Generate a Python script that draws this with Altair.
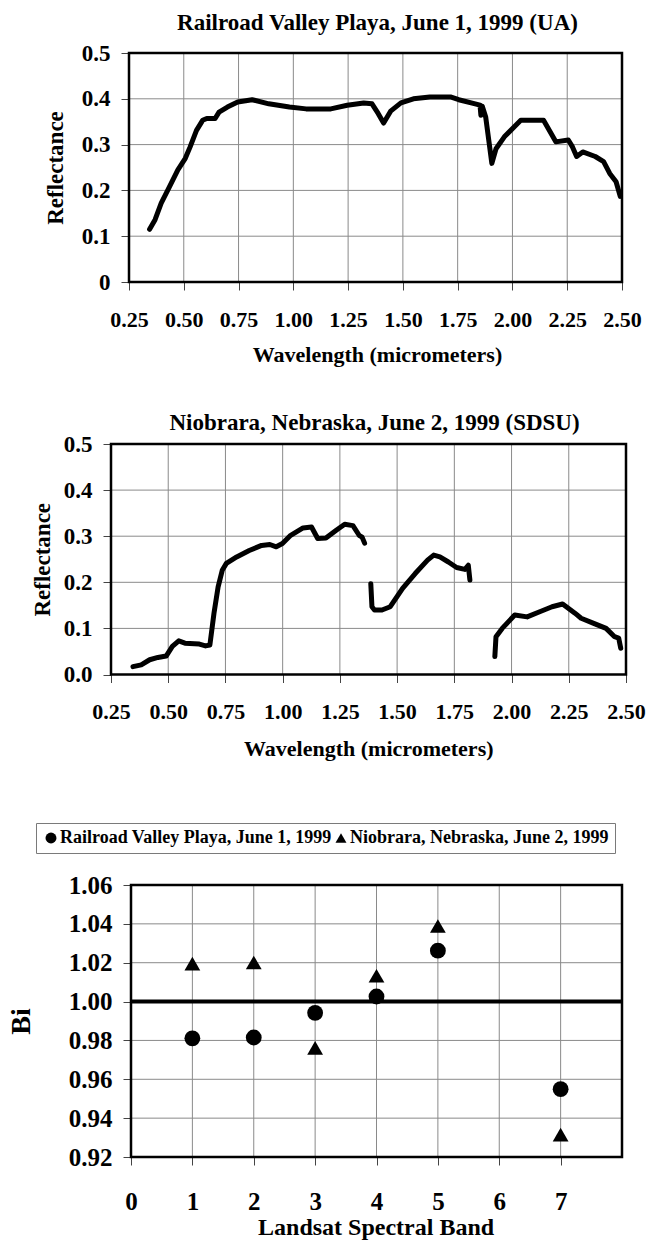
import altair as alt
import pandas as pd

FONT = "Liberation Serif"
GRID = "#8a8a8a"

# Railroad Valley Playa, June 1, 1999 (UA): reflectance spectrum
rvp_wavelength = [0.344, 0.369, 0.397, 0.435, 0.473, 0.507, 0.529, 0.558, 0.586, 0.605,
                  0.643, 0.661, 0.699, 0.746, 0.812, 0.888, 0.982, 1.058, 1.171, 1.246,
                  1.321, 1.359, 1.387, 1.412, 1.444, 1.491, 1.548, 1.623, 1.717, 1.755,
                  1.830, 1.852, 1.856, 1.862, 1.878, 1.906, 1.925, 1.963, 2.038, 2.142,
                  2.198, 2.255, 2.274, 2.293, 2.321, 2.378, 2.416, 2.444, 2.473, 2.492]
rvp_reflectance = [0.115, 0.136, 0.172, 0.208, 0.245, 0.270, 0.295, 0.331, 0.353, 0.357,
                   0.357, 0.371, 0.382, 0.393, 0.398, 0.389, 0.382, 0.378, 0.378, 0.386,
                   0.391, 0.389, 0.368, 0.347, 0.373, 0.391, 0.400, 0.404, 0.404, 0.398,
                   0.389, 0.386, 0.364, 0.384, 0.360, 0.259, 0.291, 0.317, 0.353, 0.353,
                   0.306, 0.310, 0.295, 0.274, 0.284, 0.274, 0.263, 0.237, 0.219, 0.187]

# Niobrara, Nebraska, June 2, 1999 (SDSU): three pieces between the water bands
nio_wavelength = [0.346, 0.382, 0.419, 0.455, 0.491, 0.518, 0.546, 0.573, 0.636, 0.663,
                  0.682, 0.700, 0.718, 0.736, 0.754, 0.799, 0.854, 0.908, 0.944, 0.972,
                  0.999, 1.035, 1.089, 1.126, 1.153, 1.189, 1.234, 1.271, 1.307, 1.334,
                  1.347, 1.358,
                  1.385, 1.390, 1.401, 1.434, 1.470, 1.524, 1.579, 1.633, 1.660, 1.687,
                  1.724, 1.760, 1.796, 1.811, 1.818,
                  1.927, 1.932, 1.959, 2.014, 2.068, 2.123, 2.177, 2.223, 2.277, 2.304,
                  2.359, 2.413, 2.450, 2.468, 2.477]
nio_reflectance = [0.017, 0.021, 0.032, 0.037, 0.040, 0.061, 0.073, 0.068, 0.066, 0.062,
                   0.064, 0.133, 0.190, 0.226, 0.241, 0.255, 0.269, 0.280, 0.282, 0.277,
                   0.284, 0.302, 0.318, 0.320, 0.295, 0.296, 0.313, 0.326, 0.323, 0.302,
                   0.298, 0.285,
                   0.197, 0.147, 0.140, 0.140, 0.147, 0.187, 0.219, 0.248, 0.259, 0.255,
                   0.244, 0.232, 0.228, 0.237, 0.205,
                   0.039, 0.082, 0.100, 0.129, 0.125, 0.136, 0.147, 0.153, 0.133, 0.122,
                   0.111, 0.100, 0.082, 0.079, 0.057]
nio_piece = [1] * 32 + [2] * 15 + [3] * 15

wavelength_range = [0.25, 2.5]
reflectance_range = [0.0, 0.5]
wavelength_ticks = [0.25, 0.5, 0.75, 1.0, 1.25, 1.5, 1.75, 2.0, 2.25, 2.5]
reflectance_ticks = [0.0, 0.1, 0.2, 0.3, 0.4, 0.5]

# Band-by-band Bi values for the two sites
bands = [1, 2, 3, 4, 5, 7]
rvp_bi = [0.9811, 0.9815, 0.9942, 1.0026, 1.0262, 0.9549]
nio_bi = [1.0195, 1.0201, 0.9762, 1.0133, 1.0389, 0.9315]
band_range = [0, 8]
bi_range = [0.92, 1.06]
band_ticks = [0, 1, 2, 3, 4, 5, 6, 7]
bi_ticks = [0.92, 0.94, 0.96, 0.98, 1.00, 1.02, 1.04, 1.06]
bi_reference = 1.0
rvp_name = "Railroad Valley Playa, June 1, 1999"
nio_name = "Niobrara, Nebraska, June 2, 1999"

ORIGIN = 111  # distance from the page's left edge to each panel's group origin


def spacer(top, bottom):
    """Invisible rule that fixes a panel's outer box (left, top, bottom) in the column."""
    return alt.Chart(alt.Data(values=[{}])).mark_rule(opacity=0, strokeOpacity=0).encode(
        x=alt.value(-ORIGIN), y=alt.value(-top), y2=alt.value(bottom)
    )


def x_axis(title, values, fmt, label_size, title_size, label_pad, title_x, title_y):
    return alt.Axis(
        title=title, values=values, format=fmt, domain=False, grid=False,
        ticks=True, tickColor="#444", tickSize=8, tickWidth=1,
        labelFont=FONT, labelFontSize=label_size, labelFontWeight="bold", labelColor="black",
        labelPadding=label_pad, labelFlush=False, labelOverlap=False,
        titleFont=FONT, titleFontSize=title_size, titleFontWeight="bold", titleColor="black",
        titleAlign="center", titleBaseline="alphabetic", titleX=title_x, titleY=title_y,
    )


def y_axis(title, values, label_size, title_size, title_x, title_y, shift,
           fmt=None, label_expr=None):
    kw = {}
    if fmt is not None:
        kw["format"] = fmt
    if label_expr is not None:
        kw["labelExpr"] = label_expr
    return alt.Axis(
        title=title, values=values, domain=False, grid=False, offset=-shift,
        ticks=True, tickColor="#444", tickSize=8, tickWidth=1,
        labelFont=FONT, labelFontSize=label_size, labelFontWeight="bold", labelColor="black",
        labelPadding=11, labelFlush=False, labelOverlap=False,
        titleFont=FONT, titleFontSize=title_size, titleFontWeight="bold", titleColor="black",
        titleAngle=270, titleAlign="center", titleBaseline="middle",
        titleX=title_x, titleY=title_y,
        **kw,
    )


def frame_and_grid(xs, ys, xa, ya, xdom, ydom, xticks, yticks):
    """Gridlines at the interior ticks and a heavy frame on the domain edges."""
    vgrid = pd.DataFrame({"gx": xticks[1:], "gy0": ydom[0], "gy1": ydom[1]})
    hgrid = pd.DataFrame({"gy": yticks[1:-1], "gx0": xdom[0], "gx1": xdom[1]})
    box = pd.DataFrame({"bx0": [xdom[0]], "bx1": [xdom[1]], "by0": [ydom[0]], "by1": [ydom[1]]})
    v = alt.Chart(vgrid).mark_rule(color=GRID, strokeWidth=1).encode(
        x=alt.X("gx:Q", scale=xs, axis=xa), y=alt.Y("gy0:Q", scale=ys, axis=ya), y2="gy1:Q")
    h = alt.Chart(hgrid).mark_rule(color=GRID, strokeWidth=1).encode(
        y=alt.Y("gy:Q", scale=ys, axis=ya), x=alt.X("gx0:Q", scale=xs, axis=xa), x2="gx1:Q")
    b = alt.Chart(box).mark_rect(filled=False, color="black", strokeWidth=2.5).encode(
        x=alt.X("bx0:Q", scale=xs, axis=xa), x2="bx1:Q",
        y=alt.Y("by0:Q", scale=ys, axis=ya), y2="by1:Q")
    return v, h, b


def panel_title(text, dx, offset):
    return alt.TitleParams(text=text, font=FONT, fontSize=23, fontWeight="bold", color="black",
                           anchor="middle", frame="group", baseline="alphabetic",
                           dx=dx, offset=offset)


# ---- top panel: Railroad Valley Playa spectrum ----
TOP_SHIFT, TOP_W, TOP_H = 18, 493, 229
top_xs = alt.Scale(domain=wavelength_range, range=[TOP_SHIFT, TOP_SHIFT + TOP_W], nice=False, zero=False)
top_ys = alt.Scale(domain=reflectance_range, nice=False, zero=False)
top_xa = x_axis("Wavelength (micrometers)", wavelength_ticks, ".2f", 22, 22, 19, 266, 79.5)
top_ya = y_axis("Reflectance", reflectance_ticks, 23, 23, -74, TOP_H / 2, TOP_SHIFT,
                label_expr="datum.value == 0 ? '0' : format(datum.value, '.1f')")
rvp_df = pd.DataFrame({"wavelength": rvp_wavelength, "reflectance": rvp_reflectance})
top_line = alt.Chart(rvp_df).mark_line(
    color="black", strokeWidth=5, strokeJoin="round", strokeCap="round"
).encode(
    x=alt.X("wavelength:Q", scale=top_xs, axis=top_xa),
    y=alt.Y("reflectance:Q", scale=top_ys, axis=top_ya),
)
tv, th, tb = frame_and_grid(top_xs, top_ys, top_xa, top_ya, wavelength_range,
                            reflectance_range, wavelength_ticks, reflectance_ticks)
top = alt.layer(spacer(53, 332), tv, th, top_line, tb).properties(
    width=TOP_SHIFT + TOP_W, height=TOP_H,
    title=panel_title("Railroad Valley Playa, June 1, 1999 (UA)", 11, -53),
)

# ---- middle panel: Niobrara spectrum ----
MID_W, MID_H = 515, 230.5
mid_xs = alt.Scale(domain=wavelength_range, range=[0, MID_W], nice=False, zero=False)
mid_ys = alt.Scale(domain=reflectance_range, nice=False, zero=False)
mid_xa = x_axis("Wavelength (micrometers)", wavelength_ticks, ".2f", 22, 22, 19, 257.3, 80.5)
mid_ya = y_axis("Reflectance", reflectance_ticks, 23, 23, -68.5, MID_H / 2, 0, fmt=".1f")
nio_df = pd.DataFrame({"wavelength": nio_wavelength, "reflectance": nio_reflectance,
                       "piece": nio_piece})
mid_line = alt.Chart(nio_df).mark_line(
    color="black", strokeWidth=5, strokeJoin="round", strokeCap="round"
).encode(
    x=alt.X("wavelength:Q", scale=mid_xs, axis=mid_xa),
    y=alt.Y("reflectance:Q", scale=mid_ys, axis=mid_ya),
    detail="piece:N",
)
mv, mh, mb = frame_and_grid(mid_xs, mid_ys, mid_xa, mid_ya, wavelength_range,
                            reflectance_range, wavelength_ticks, reflectance_ticks)
mid = alt.layer(spacer(58.5, 346.5), mv, mh, mid_line, mb).properties(
    width=MID_W, height=MID_H,
    title=panel_title("Niobrara, Nebraska, June 2, 1999 (SDSU)", 6, -67),
)

# ---- bottom panel: Bi by Landsat band ----
BOT_SHIFT, BOT_W, BOT_H = 20, 491, 272
bot_xs = alt.Scale(domain=band_range, range=[BOT_SHIFT, BOT_SHIFT + BOT_W], nice=False, zero=False)
bot_ys = alt.Scale(domain=bi_range, nice=False, zero=False)
bot_xa = x_axis("Landsat Spectral Band", band_ticks, "d", 25, 24, 24, 264.6, 77)
bot_ya = y_axis("Bi", bi_ticks, 25, 28, -109.3, BOT_H / 2, BOT_SHIFT, fmt=".2f")
bi_df = pd.DataFrame({
    "band": bands + bands,
    "bi": rvp_bi + nio_bi,
    "site": [rvp_name] * len(bands) + [nio_name] * len(bands),
})
site_shape = alt.Shape(
    "site:N",
    scale=alt.Scale(domain=[rvp_name, nio_name], range=["circle", "triangle-up"]),
    legend=alt.Legend(
        title=None, orient="none", legendX=36 - ORIGIN, legendY=-62, direction="horizontal",
        strokeColor="#7a7a7a", padding=6, fillColor="white",
        labelFont=FONT, labelFontSize=18, labelFontWeight="bold", labelColor="black",
        labelOffset=0, labelLimit=0, columnPadding=0,
        symbolFillColor="black", symbolStrokeColor="black", symbolStrokeWidth=0,
        symbolSize=120,
    ),
)
points = alt.Chart(bi_df).mark_point(filled=True, color="black", opacity=1, size=250).encode(
    x=alt.X("band:Q", scale=bot_xs, axis=bot_xa),
    y=alt.Y("bi:Q", scale=bot_ys, axis=bot_ya),
    shape=site_shape,
)
unity = alt.Chart(pd.DataFrame({"bi": [bi_reference], "b0": [band_range[0]],
                                "b1": [band_range[1]]})).mark_rule(
    color="black", strokeWidth=4
).encode(
    y=alt.Y("bi:Q", scale=bot_ys, axis=bot_ya),
    x=alt.X("b0:Q", scale=bot_xs, axis=bot_xa), x2="b1:Q",
)
bv, bh, bb = frame_and_grid(bot_xs, bot_ys, bot_xa, bot_ya, band_range, bi_range,
                            band_ticks, bi_ticks)
bot = alt.layer(spacer(94, 355), bv, bh, unity, points, bb).properties(
    width=BOT_SHIFT + BOT_W, height=BOT_H)

chart = alt.vconcat(top, mid, bot, spacing=0).resolve_scale(
    shape="independent"
).resolve_legend(shape="independent").properties(
    padding=0,
    background="white",
).configure_view(strokeOpacity=0)

chart.save("out.html", embed_options={"renderer": "svg", "actions": False})
